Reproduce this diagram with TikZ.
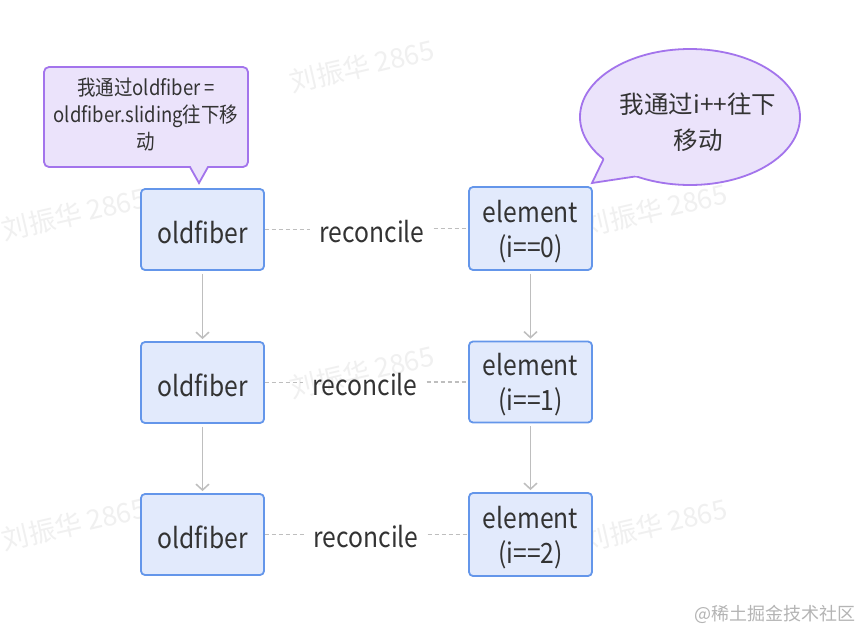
\documentclass[tikz,border=0pt]{standalone}
\usepackage{fontspec}
\setmainfont[FakeStretch=0.88]{Noto Sans CJK SC}
\newfontfamily\plainfont{Noto Sans CJK SC}
\usetikzlibrary{arrows.meta}
\definecolor{boxfill}{HTML}{E2EAFC}
\definecolor{boxline}{HTML}{6496EA}
\definecolor{notefill}{HTML}{EBE3FB}
\definecolor{noteline}{HTML}{A374EC}
\definecolor{edgegray}{HTML}{BEBEBE}
\definecolor{txt}{HTML}{333333}
\definecolor{wmgray}{HTML}{F0F0F0}
\definecolor{jjgray}{HTML}{B4B4B4}
\newcommand{\lowtext}[1]{\raisebox{-3pt}[\height][\depth]{#1}}
\tikzset{
  fbox/.style={draw=boxline, fill=boxfill, line width=1.8pt, rounded corners=4pt,
    minimum width=123pt, minimum height=81pt, inner sep=0pt, align=center,
    text=txt, font=\fontsize{28}{35}\selectfont},
  rlabel/.style={inner xsep=9pt, inner ysep=0pt, text=txt, font=\fontsize{28}{35}\selectfont},
  dashline/.style={draw=edgegray, line width=1.5pt, dash pattern=on 4pt off 3pt},
  arrowline/.style={draw=edgegray, line width=1.5pt, -{Straight Barb[length=6pt,width=13pt,line width=1.5pt]},
    shorten <=3pt, shorten >=2pt},
  notebox/.style={draw=noteline, fill=notefill, line width=1.8pt},
  notetext/.style={align=center, text=txt, inner sep=0pt},
  wm/.style={text=wmgray, font=\plainfont\fontsize{27}{30}\selectfont, rotate=13, inner sep=0pt},
}
\begin{document}
\begin{tikzpicture}[x=1pt, y=-1pt]
\useasboundingbox[fill=white] (0,0) rectangle (862,632);
% watermarks
\node[wm] (w1) at (362,66) {刘振华 2865};
\node[wm] (w2) at (74,214) {刘振华 2865};
\node[wm] (w3) at (655,210) {刘振华 2865};
\node[wm] (w4) at (362,372) {刘振华 2865};
\node[wm] (w5) at (74,524) {刘振华 2865};
\node[wm] (w6) at (655,525) {刘振华 2865};
% boxes
\node[fbox] (o1) at (202.5,229.5) {\lowtext{oldfiber}};
\node[fbox] (o2) at (202.5,382.5) {\lowtext{oldfiber}};
\node[fbox] (o3) at (202.5,534.5) {\lowtext{oldfiber}};
\node[fbox, minimum height=83pt] (e1) at (530.5,228.5) {\lowtext{element}\\\lowtext{(i==0)}};
\node[fbox] (e2) at (530.5,382) {\lowtext{element}\\\lowtext{(i==1)}};
\node[fbox, minimum height=83pt] (e3) at (530.5,534.5) {\lowtext{element}\\\lowtext{(i==2)}};
% reconcile labels
\node[rlabel] (r1) at (372,231.5) {reconcile};
\node[rlabel] (r2) at (365,385) {reconcile};
\node[rlabel] (r3) at (366,536.5) {reconcile};
\draw[dashline] (o1.east) -- (o1.east -| r1.west);
\draw[dashline] (e1.west -| r1.east) -- (e1.west);
\draw[dashline] (o2.east) -- (o2.east -| r2.west);
\draw[dashline] (e2.west -| r2.east) -- (e2.west);
\draw[dashline] (o3.east) -- (o3.east -| r3.west);
\draw[dashline] (e3.west -| r3.east) -- (e3.west);
% vertical arrows
\draw[arrowline] (o1.south) -- (o2.north);
\draw[arrowline] (o2.south) -- (o3.north);
\draw[arrowline] (e1.south) -- (e2.north);
\draw[arrowline] (e2.south) -- (e3.north);
% rectangular callout
\draw[notebox] (199,183) -- (190,167) [rounded corners=5pt] -- (44,167) -- (44,67) -- (248,67) -- (248,167) [sharp corners] -- (208,167) -- cycle;
\node[notetext, font=\fontsize{21}{27}\selectfont] (n1) at (146,115) {我通过oldfiber =\\oldfiber.sliding往下移\\动};
% speech bubble
\coordinate (tip) at (592,183);
\coordinate (tb1) at (606,154);
\coordinate (tb2) at (645,175);
\fill[notefill] (690,117) ellipse [x radius=110, y radius=68];
\fill[notefill] (tip) -- (tb1) -- (tb2) -- cycle;
\begin{scope}[even odd rule]
  \clip (0,0) rectangle (862,632) (tip) -- (tb1) -- (tb2) -- cycle;
  \draw[draw=noteline, line width=1.8pt] (690,117) ellipse [x radius=110, y radius=68];
\end{scope}
\begin{scope}[even odd rule]
  \clip (0,0) rectangle (862,632) (690,117) ellipse [x radius=110, y radius=68];
  \draw[draw=noteline, line width=1.8pt, line join=miter] (tb1) -- (tip) -- (tb2);
\end{scope}
\node[notetext, font=\plainfont\fontsize{24.5}{36}\selectfont] (n2) at (698,122) {我通过i++往下\\移动};
% footer
\node[anchor=east, text=jjgray, font=\plainfont\fontsize{18}{20}\selectfont, inner sep=0pt] (jj) at (856,614) {@稀土掘金技术社区};
\end{tikzpicture}
\end{document}
